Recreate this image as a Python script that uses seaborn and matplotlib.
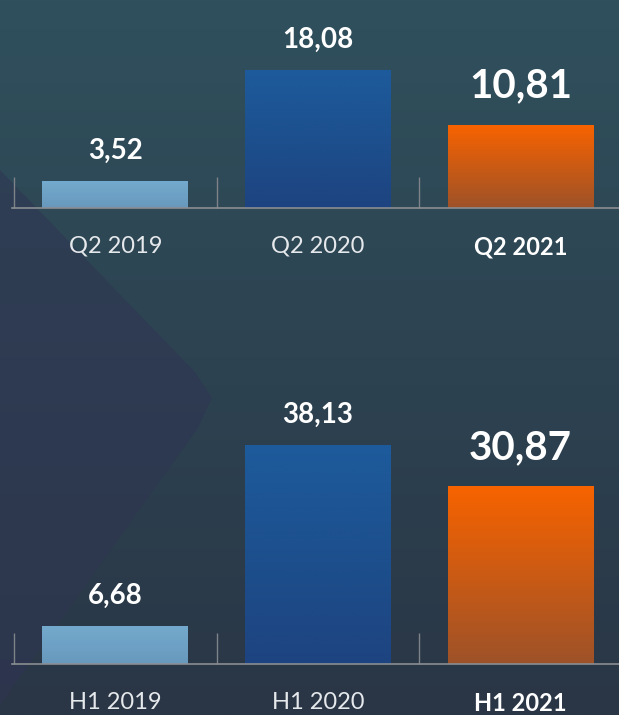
import numpy as np
import matplotlib
matplotlib.use("Agg")
import matplotlib.pyplot as plt
import seaborn as sns
import pandas as pd
from matplotlib.colors import to_rgb
from matplotlib.patches import Polygon
from matplotlib.ticker import FixedLocator

# ---- data ----
q_categories = ["Q2 2019", "Q2 2020", "Q2 2021"]
q_values = [3.52, 18.08, 10.81]
q_labels = ["3,52", "18,08", "10,81"]

h_categories = ["H1 2019", "H1 2020", "H1 2021"]
h_values = [6.68, 38.13, 30.87]
h_labels = ["6,68", "38,13", "30,87"]

bar_top_colors = ["#74aacd", "#1d5b9c", "#f76300"]
bar_bottom_colors = ["#6899bd", "#1d4480", "#9e5229"]

sns.set_theme(style="white")
plt.rcParams['font.family'] = ['Lato', 'DejaVu Sans']

W, H = 619, 715
fig = plt.figure(figsize=(W / 100, H / 100), dpi=100)

# ---- background ----
bg = fig.add_axes([0, 0, 1, 1], zorder=-10)
bg.set_axis_off()
t = np.linspace(0, 1, 300)[:, None, None]
top = np.array(to_rgb("#30505d"))
bot = np.array(to_rgb("#2a3646"))
img = top * (1 - t) + bot * t
img = np.broadcast_to(img, (300, 300, 3))
bg.imshow(img, extent=[0, W, H, 0], aspect='auto')
bg.add_patch(Polygon([(0, 170), (195, 372), (212, 398), (198, 428), (0, 705)],
                     closed=True, facecolor="#2f3552", alpha=0.55, edgecolor='none'))
bg.set_xlim(0, W)
bg.set_ylim(H, 0)


def panel(ax, cats, vals, labels, ymax):
    df = pd.DataFrame({"cat": cats, "val": vals})
    sns.barplot(data=df, x="cat", y="val", hue="cat", palette=bar_top_colors,
                legend=False, width=0.72, ax=ax, saturation=1)
    for patch, c1, c2 in zip(ax.patches, bar_top_colors, bar_bottom_colors):
        x0, y0 = patch.get_x(), patch.get_y()
        w, h = patch.get_width(), patch.get_height()
        g = np.linspace(0, 1, 100)[:, None, None]
        im_arr = np.array(to_rgb(c1)) * (1 - g) + np.array(to_rgb(c2)) * g
        im = ax.imshow(im_arr, extent=[x0, x0 + w, y0, y0 + h], origin='upper',
                       aspect='auto', zorder=2)
        im.set_clip_path(patch)
        patch.set_facecolor('none')
        patch.set_edgecolor('none')
    for i, (v, lab) in enumerate(zip(vals, labels)):
        big = (i == len(vals) - 1)
        ax.annotate(lab, (i, v), xytext=(0, 20 if big else 16), textcoords='offset points',
                    ha='center', va='baseline', color='white', fontweight='bold',
                    fontsize=29 if big else 20, annotation_clip=False)
    ax.set_xlim(-0.51, 2.5)
    ax.set_ylim(0, ymax)
    ax.set_facecolor('none')
    for s in ['top', 'right', 'left']:
        ax.spines[s].set_visible(False)
    ax.spines['bottom'].set_color('#8a8e92')
    ax.spines['bottom'].set_linewidth(1.2)
    ax.set_yticks([])
    ax.set_xlabel('')
    ax.set_ylabel('')
    ax.xaxis.set_minor_locator(FixedLocator([-0.5, 0.5, 1.5]))
    ax.tick_params(axis='x', which='minor', direction='in', length=22, width=1,
                   color='#7d8388', bottom=True)
    ax.tick_params(axis='x', which='major', length=0, pad=20, labelsize=17,
                   labelcolor='#e6e9ec')
    ticklabels = ax.get_xticklabels()
    for j, tl in enumerate(ticklabels):
        if j == len(ticklabels) - 1:
            tl.set_fontweight('bold')
            tl.set_color('white')
        else:
            tl.set_fontweight('normal')


ax1 = fig.add_axes([12 / W, 1 - 208 / H, 610 / W, 208 / H])
panel(ax1, q_categories, q_values, q_labels, 208 / 7.65)

ax2 = fig.add_axes([12 / W, 1 - 664 / H, 610 / W, 284 / H])
panel(ax2, h_categories, h_values, h_labels, 284 / 5.75)

fig.savefig("out.png", dpi=100)
